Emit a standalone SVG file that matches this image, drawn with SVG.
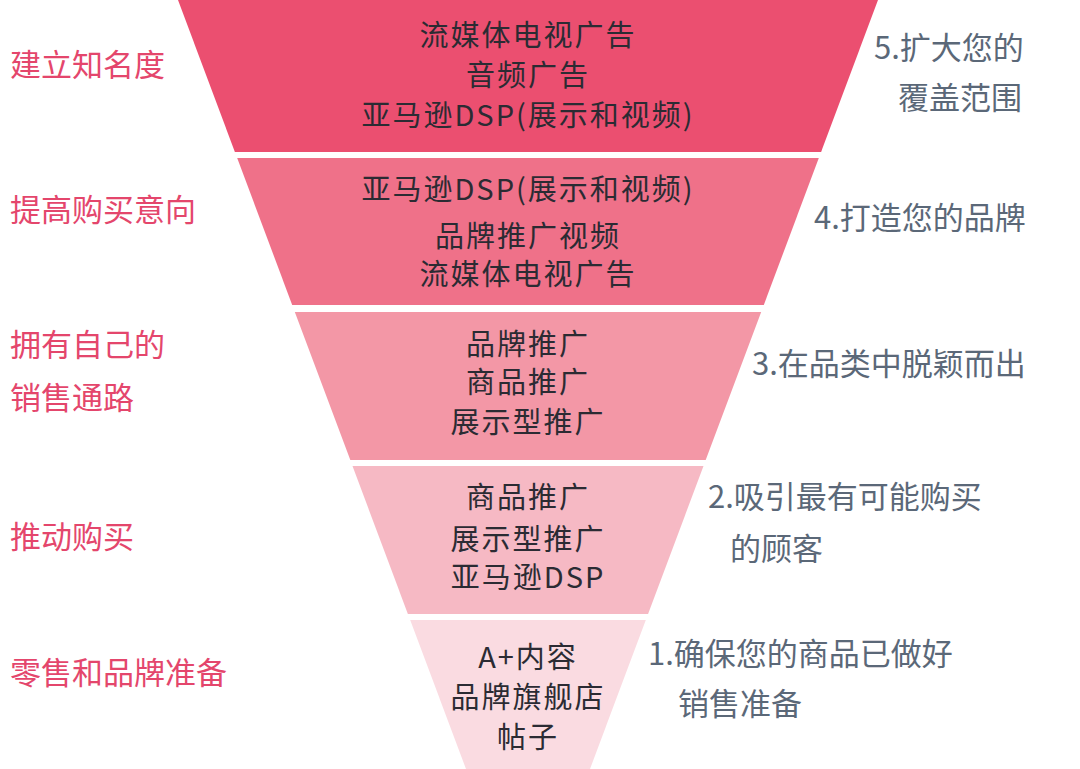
<svg xmlns="http://www.w3.org/2000/svg" width="1080" height="769" viewBox="0 0 1080 769">
<style>
text{font-family:"Noto Sans CJK SC","Noto Sans",sans-serif}
.c{font-size:29px;fill:#2b2b33;text-anchor:middle;letter-spacing:2px}
.l{font-size:31px;fill:#e4466c}
.r{font-size:31px;fill:#5b6878}
</style>
<rect width="1080" height="769" fill="#fff"/>
<g id="band1"><polygon points="178,0 878,0 821.1,152 234.9,152" fill="#eb4f70"/>
<text class="c" x="528" y="46">流媒体电视广告</text><text class="c" x="528" y="86">音频广告</text><text class="c" x="528" y="126">亚马逊DSP(展示和视频)</text></g>
<g id="band2"><polygon points="237.2,158 818.8,158 763.8,305 292.2,305" fill="#ef7189"/>
<text class="c" x="528" y="200">亚马逊DSP(展示和视频)</text><text class="c" x="528" y="247">品牌推广视频</text><text class="c" x="528" y="285">流媒体电视广告</text></g>
<g id="band3"><polygon points="294.8,312 761.2,312 705.7,460 350.3,460" fill="#f397a6"/>
<text class="c" x="528" y="355">品牌推广</text><text class="c" x="528" y="393">商品推广</text><text class="c" x="528" y="433">展示型推广</text></g>
<g id="band4"><polygon points="352.5,466 703.5,466 648.1,614 407.9,614" fill="#f6b9c4"/>
<text class="c" x="528" y="508">商品推广</text><text class="c" x="528" y="550">展示型推广</text><text class="c" x="528" y="588">亚马逊DSP</text></g>
<g id="band5"><polygon points="410.2,620 645.8,620 590,769 466,769" fill="#fadbe1"/>
<text class="c" x="528" y="668">A+内容</text><text class="c" x="528" y="708">品牌旗舰店</text><text class="c" x="528" y="748">帖子</text></g>
<g id="left">
<text class="l" x="10" y="76">建立知名度</text>
<text class="l" x="10" y="221">提高购买意向</text>
<text class="l" x="10" y="356">拥有自己的</text>
<text class="l" x="10" y="409">销售通路</text>
<text class="l" x="10" y="548">推动购买</text>
<text class="l" x="10" y="684">零售和品牌准备</text>
</g>
<g id="right">
<text class="r" x="874" y="59">5.扩大您的</text>
<text class="r" x="898" y="109">覆盖范围</text>
<text class="r" x="814" y="229">4.打造您的品牌</text>
<text class="r" x="752" y="375">3.在品类中脱颖而出</text>
<text class="r" x="708" y="508">2.吸引最有可能购买</text>
<text class="r" x="730" y="560">的顾客</text>
<text class="r" x="648" y="665">1.确保您的商品已做好</text>
<text class="r" x="678" y="715">销售准备</text>
</g>
<g id="connectors"/>
</svg>
